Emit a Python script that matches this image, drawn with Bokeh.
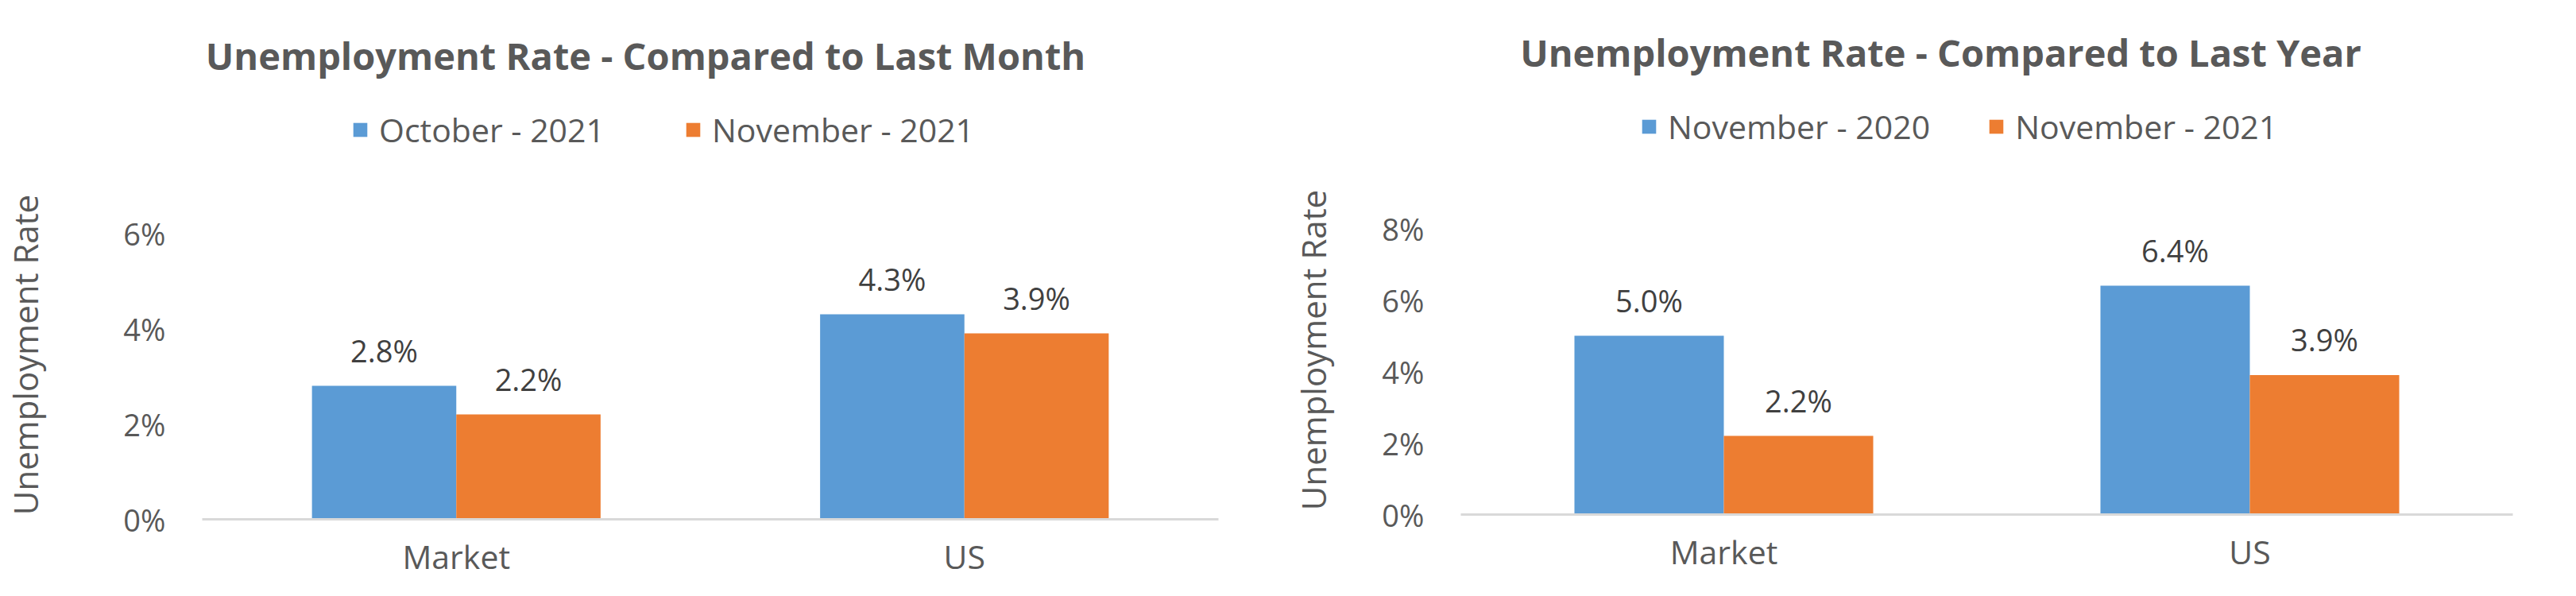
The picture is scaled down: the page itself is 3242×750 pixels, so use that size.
from bokeh.plotting import figure
from bokeh.layouts import row, column
from bokeh.models import (ColumnDataSource, FactorRange, Range1d, FixedTicker,
                          PrintfTickFormatter, Legend, LegendItem, LabelSet, Label)
from bokeh.transform import dodge
from bokeh.core.properties import value
from bokeh.embed import file_html
from bokeh.resources import INLINE

# ---- data ----
categories = ["Market", "US"]

month_title = "Unemployment Rate - Compared to Last Month"
month_series = ["October - 2021", "November - 2021"]
month_prev = [2.8, 4.3]
month_curr = [2.2, 3.9]
month_ticks = [0, 2, 4, 6]

year_title = "Unemployment Rate - Compared to Last Year"
year_series = ["November - 2020", "November - 2021"]
year_prev = [5.0, 6.4]
year_curr = [2.2, 3.9]
year_ticks = [0, 2, 4, 6, 8]

y_title = "Unemployment Rate"

BLUE = "#5B9BD5"
ORANGE = "#ED7D31"
GREY = "#595959"
DARK = "#404040"
FONT = "Open Sans"
W = 1621
BW = 0.284


def bars(p, src):
    r1 = p.vbar(x=dodge("cat", -BW / 2, range=p.x_range), top="prev", width=BW,
                source=src, fill_color=BLUE, line_color=None)
    r2 = p.vbar(x=dodge("cat", BW / 2, range=p.x_range), top="curr", width=BW,
                source=src, fill_color=ORANGE, line_color=None)
    return r1, r2


def make_chart(title, series, prev, curr, ticks, head_h, borders, frame_h,
               title_x, title_base, legend_x, legend_y, legend_spacing, ylabel_standoff):
    left, right, bottom = borders
    src = ColumnDataSource(dict(
        cat=categories, prev=prev, curr=curr,
        prev_lbl=[f"{v:.1f}%" for v in prev],
        curr_lbl=[f"{v:.1f}%" for v in curr],
    ))

    # ---- header: title + legend (frame aligned with the chart's frame) ----
    h = figure(width=W, height=head_h, x_range=FactorRange(*categories, range_padding=0),
               y_range=Range1d(1000, 1001), x_axis_type=None, y_axis_type=None,
               output_backend="svg", toolbar_location=None, title=None,
               min_border_left=left, min_border_right=right,
               min_border_top=0, min_border_bottom=0)
    h.outline_line_color = None
    h.background_fill_color = "white"
    h.border_fill_color = "white"
    d1, d2 = bars(h, src)  # same series; out of the header's view, they feed the legend
    h.add_layout(Label(x=title_x, y=head_h - title_base, x_units="screen", y_units="screen",
                       text=title, text_align="center", text_baseline="alphabetic",
                       text_font=FONT, text_font_style="bold", text_font_size="47px",
                       text_color=GREY))
    legend = Legend(items=[LegendItem(label=series[0], renderers=[d1]),
                           LegendItem(label=series[1], renderers=[d2])],
                    orientation="horizontal", location=(legend_x, legend_y),
                    glyph_width=22, glyph_height=22, label_standoff=13,
                    spacing=legend_spacing, padding=0, margin=0,
                    border_line_color=None, background_fill_alpha=0,
                    label_text_font=FONT, label_text_font_size="41px",
                    label_text_color=GREY)
    h.add_layout(legend)

    # ---- main chart ----
    top_val = ticks[-1] * frame_h / 360.0
    p = figure(width=W, height=frame_h + bottom,
               x_range=FactorRange(*categories, range_padding=0),
               y_range=Range1d(0, top_val), output_backend="svg", toolbar_location=None,
               title=None, min_border_left=left, min_border_right=right,
               min_border_top=0, min_border_bottom=bottom)
    p.outline_line_color = None
    p.xgrid.grid_line_color = None
    p.ygrid.grid_line_color = None
    p.background_fill_color = "white"
    p.border_fill_color = "white"

    bars(p, src)
    for xoff, col in ((-BW / 2, "prev"), (BW / 2, "curr")):
        p.add_layout(LabelSet(x=dodge("cat", xoff, range=p.x_range), y=col,
                              text=col + "_lbl", source=src, y_offset=30,
                              text_align="center", text_baseline="alphabetic",
                              text_font=value(FONT), text_font_size="38px",
                              text_color=DARK))

    p.yaxis.ticker = FixedTicker(ticks=ticks)
    p.yaxis.formatter = PrintfTickFormatter(format="%d%%")
    p.yaxis.axis_line_color = None
    p.yaxis.major_tick_line_color = None
    p.yaxis.minor_tick_line_color = None
    p.yaxis.major_label_standoff = 40
    p.yaxis.major_label_text_font = FONT
    p.yaxis.major_label_text_font_size = "38px"
    p.yaxis.major_label_text_color = GREY
    p.yaxis.axis_label = y_title
    p.yaxis.axis_label_standoff = ylabel_standoff
    p.yaxis.axis_label_text_font = FONT
    p.yaxis.axis_label_text_font_style = "normal"
    p.yaxis.axis_label_text_font_size = "42px"
    p.yaxis.axis_label_text_color = GREY

    p.xaxis.axis_line_color = "#D9D9D9"
    p.xaxis.axis_line_width = 3
    p.xaxis.major_tick_line_color = None
    p.xaxis.minor_tick_line_color = None
    p.xaxis.major_label_standoff = 12
    p.xaxis.major_label_text_font = FONT
    p.xaxis.major_label_text_font_size = "41px"
    p.xaxis.major_label_text_color = GREY

    return column(h, p, spacing=0)


c1 = make_chart(month_title, month_series, month_prev, month_curr, month_ticks,
                head_h=239, borders=(250, 88, 97), frame_h=414,
                title_x=558, title_base=69, legend_x=188, legend_y=48,
                legend_spacing=100, ylabel_standoff=92)
c2 = make_chart(year_title, year_series, year_prev, year_curr, year_ticks,
                head_h=233, borders=(212, 80, 103), frame_h=414,
                title_x=604, title_base=65, legend_x=226, legend_y=46,
                legend_spacing=72, ylabel_standoff=55)

layout = row(c1, c2, spacing=0)
open("out.html", "w").write(file_html(layout, INLINE))
